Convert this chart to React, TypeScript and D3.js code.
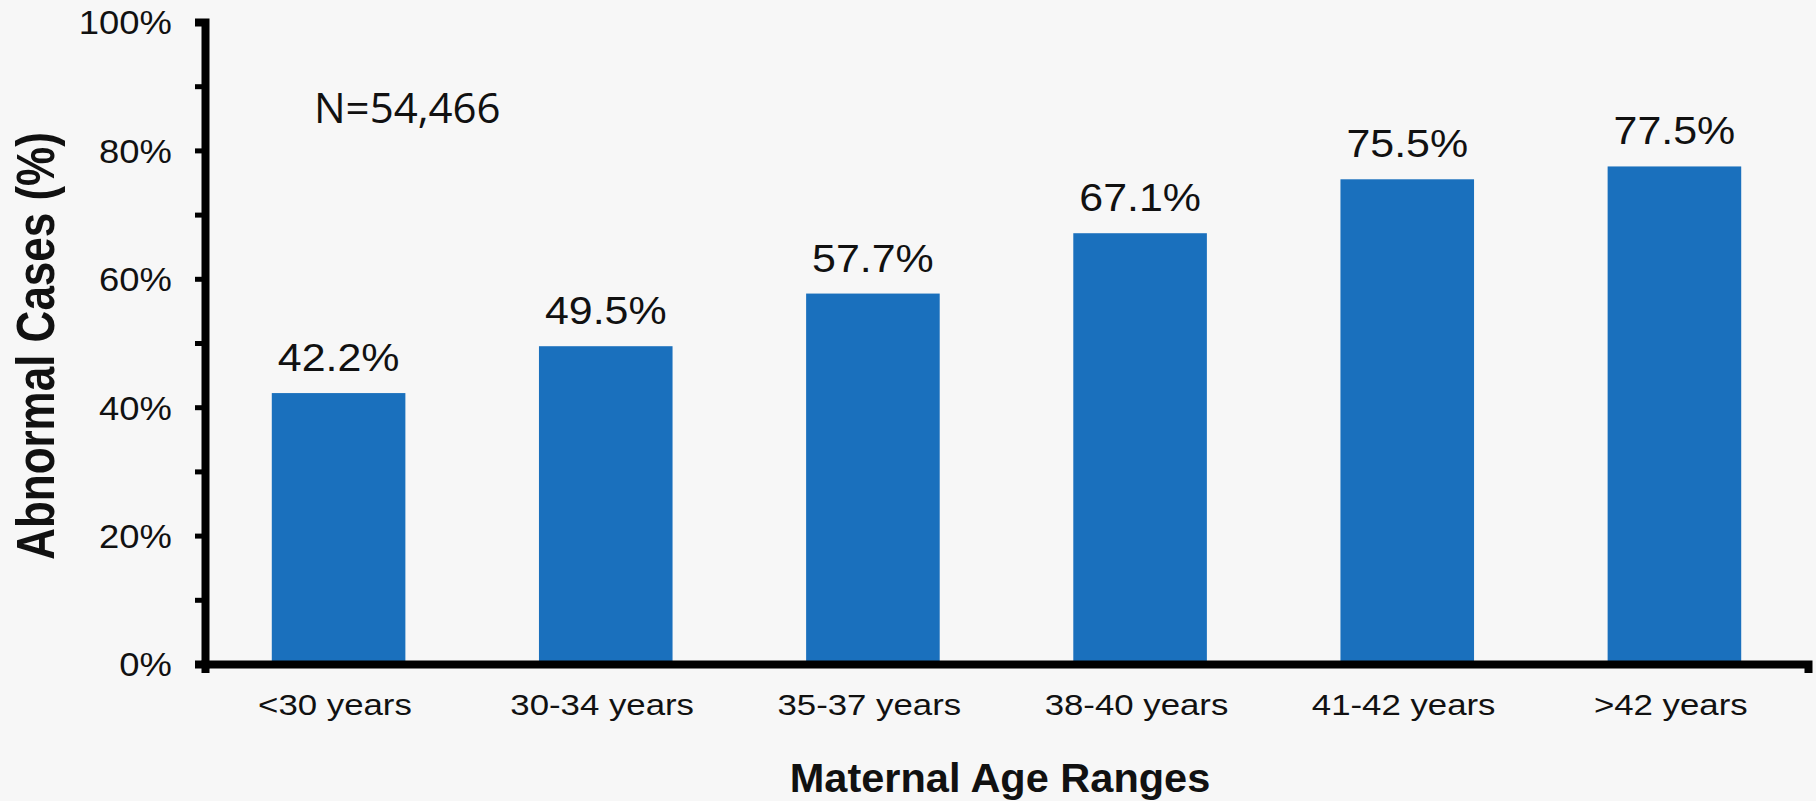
import React, { useEffect, useRef } from "react";
import { axisBottom, axisLeft, scaleBand, scaleLinear, select } from "d3";

const categories = [
  "<30 years",
  "30-34 years",
  "35-37 years",
  "38-40 years",
  "41-42 years",
  ">42 years",
];
const values = [42.2, 49.5, 57.7, 67.1, 75.5, 77.5];
const yTicks = [0, 20, 40, 60, 80, 100];
const yMinorTicks = [10, 30, 50, 70, 90];

const width = 1816;
const height = 801;
const font = "'Liberation Sans', Arial, sans-serif";

export default function App() {
  const svgRef = useRef<SVGSVGElement | null>(null);

  useEffect(() => {
    const svg = select(svgRef.current);
    svg.selectAll("*").remove();

    svg
      .append("rect")
      .attr("width", width)
      .attr("height", height)
      .attr("fill", "#f7f7f7");

    const x = scaleBand<string>()
      .domain(categories)
      .range([205, 1808])
      .paddingInner(0.5)
      .paddingOuter(0.25);

    const y = scaleLinear().domain([0, 100]).range([664, 22]);

    // bars
    svg
      .append("g")
      .selectAll("rect")
      .data(values)
      .join("rect")
      .attr("x", (_, i) => x(categories[i]) as number)
      .attr("y", (d) => y(d))
      .attr("width", x.bandwidth())
      .attr("height", (d) => y(0) - y(d))
      .attr("fill", "#1a70bd");

    // value labels (source image is a bit stretched sideways)
    svg
      .append("g")
      .selectAll("text")
      .data(values)
      .join("text")
      .attr(
        "transform",
        (d, i) =>
          `translate(${(x(categories[i]) as number) + x.bandwidth() / 2},${y(d) - 22}) scale(1.1,1)`
      )
      .attr("text-anchor", "middle")
      .style("font-family", font)
      .style("font-size", "39px")
      .attr("fill", "#111")
      .text((d) => `${d.toFixed(1)}%`);

    // y minor ticks
    const yMinor = svg
      .append("g")
      .attr("transform", "translate(205,0)")
      .call(axisLeft(y).tickValues(yMinorTicks).tickSize(10).tickFormat(() => ""));
    yMinor.select(".domain").remove();
    yMinor.selectAll(".tick line").attr("stroke", "#000").attr("stroke-width", 5);

    // y axis
    const yAxis = svg
      .append("g")
      .attr("transform", "translate(205,0)")
      .call(
        axisLeft(y)
          .tickValues(yTicks)
          .tickSize(10)
          .tickSizeOuter(10)
          .tickFormat((d) => `${d}%`)
      );
    yAxis.select(".domain").attr("stroke", "#000").attr("stroke-width", 8);
    yAxis.selectAll(".tick line").attr("stroke", "#000").attr("stroke-width", 5);
    yAxis
      .selectAll(".tick text")
      .attr("x", -31)
      .attr("dy", "0.35em")
      .attr("transform", "scale(1.07,1)")
      .attr("fill", "#111")
      .style("font-family", font)
      .style("font-size", "34px");

    // x axis
    const xAxis = svg
      .append("g")
      .attr("transform", "translate(0,664)")
      .call(axisBottom(x).tickSize(0).tickSizeOuter(9));
    xAxis.select(".domain").attr("stroke", "#000").attr("stroke-width", 8);
    xAxis
      .selectAll(".tick text")
      .attr("y", 51)
      .attr("dy", "0")
      .attr("x", -3)
      .attr("transform", "scale(1.2,1)")
      .attr("fill", "#111")
      .style("font-family", font)
      .style("font-size", "29px");

    // axis titles
    svg
      .append("text")
      .attr("transform", "translate(54,346) rotate(-90) scale(1,1.22)")
      .attr("text-anchor", "middle")
      .style("font-family", font)
      .style("font-size", "44px")
      .style("font-weight", "bold")
      .attr("fill", "#111")
      .text("Abnormal Cases (%)");

    svg
      .append("text")
      .attr("x", 1000)
      .attr("y", 792)
      .attr("text-anchor", "middle")
      .style("font-family", font)
      .style("font-size", "41.5px")
      .style("font-weight", "bold")
      .attr("fill", "#111")
      .text("Maternal Age Ranges");

    svg
      .append("text")
      .attr("x", 314)
      .attr("y", 123)
      .style("font-family", "'Open Sans', sans-serif")
      .style("font-size", "42px")
      .attr("fill", "#111")
      .text("N=54,466");
  }, []);

  return (
    <svg
      ref={svgRef}
      width={width}
      height={height}
      style={{ position: "absolute", left: 0, top: 0, display: "block" }}
    ></svg>
  );
}
